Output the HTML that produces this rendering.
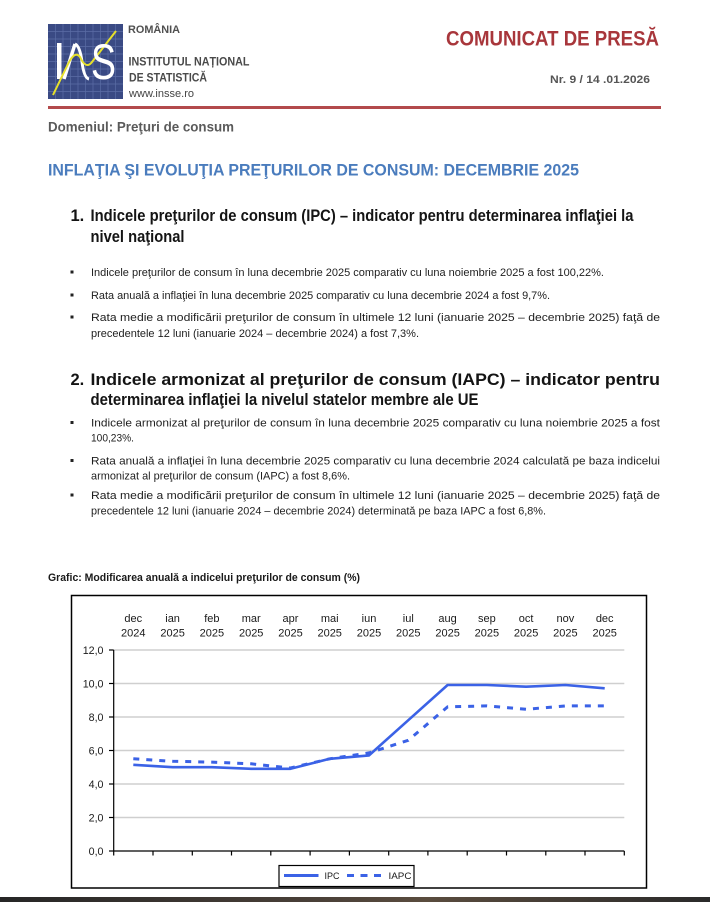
<!DOCTYPE html>
<html>
<head>
<meta charset="utf-8">
<style>
html,body{margin:0;padding:0;background:#fff;}
body{width:710px;height:902px;overflow:hidden;}
svg{display:block;}
</style>
</head>
<body>
<svg width="710" height="902" viewBox="0 0 710 902" xmlns="http://www.w3.org/2000/svg" font-family="Liberation Sans, Arial, sans-serif">
<defs>
<linearGradient id="band" x1="0" x2="1" y1="0" y2="0">
<stop offset="0" stop-color="#262626"/>
<stop offset="0.45" stop-color="#4a4038"/>
<stop offset="0.6" stop-color="#5a4c3e"/>
<stop offset="1" stop-color="#2a2a2a"/>
</linearGradient>
</defs>
<rect x="0" y="0" width="710" height="902" fill="#ffffff"/>

<!-- Logo -->
<rect x="48" y="24" width="75" height="75" fill="#3a4a84"/>
<g stroke="#6476ae" stroke-width="0.7" opacity="0.8">
<line x1="55.5" y1="24" x2="55.5" y2="99"/><line x1="63" y1="24" x2="63" y2="99"/><line x1="70.5" y1="24" x2="70.5" y2="99"/><line x1="78" y1="24" x2="78" y2="99"/><line x1="85.5" y1="24" x2="85.5" y2="99"/><line x1="93" y1="24" x2="93" y2="99"/><line x1="100.5" y1="24" x2="100.5" y2="99"/><line x1="108" y1="24" x2="108" y2="99"/><line x1="115.5" y1="24" x2="115.5" y2="99"/>
<line x1="48" y1="31.5" x2="123" y2="31.5"/><line x1="48" y1="39" x2="123" y2="39"/><line x1="48" y1="46.5" x2="123" y2="46.5"/><line x1="48" y1="54" x2="123" y2="54"/><line x1="48" y1="61.5" x2="123" y2="61.5"/><line x1="48" y1="69" x2="123" y2="69"/><line x1="48" y1="76.5" x2="123" y2="76.5"/><line x1="48" y1="84" x2="123" y2="84"/><line x1="48" y1="91.5" x2="123" y2="91.5"/>
</g>
<rect x="57" y="43" width="4.5" height="36" fill="#ffffff"/>
<path d="M64 79 L75 44" stroke="#ffffff" stroke-width="3.5" fill="none"/>
<path d="M75 44 Q80 46 82 62 Q84 78 89 79" stroke="#ffffff" stroke-width="3" fill="none"/>
<path d="M53 95 L68 64 Q75 50 80 57 Q86 70 92 62 L116 31" stroke="#e6e02a" stroke-width="2" fill="none"/>
<text x="91" y="79" font-size="50" fill="#ffffff" textLength="25" lengthAdjust="spacingAndGlyphs">S</text>

<!-- Header texts -->
<text x="128" y="33" font-size="11" font-weight="bold" fill="#505050" textLength="52" lengthAdjust="spacingAndGlyphs">ROMÂNIA</text>
<text x="128.5" y="65.5" font-size="12" font-weight="bold" fill="#4a4a4a" textLength="121" lengthAdjust="spacingAndGlyphs">INSTITUTUL NAȚIONAL</text>
<text x="129" y="81.5" font-size="12" font-weight="bold" fill="#4a4a4a" textLength="78" lengthAdjust="spacingAndGlyphs">DE STATISTICĂ</text>
<text x="129" y="97" font-size="11" fill="#444444" textLength="65" lengthAdjust="spacingAndGlyphs">www.insse.ro</text>

<text x="446" y="45.5" font-size="21.5" font-weight="bold" fill="#a8363b" textLength="213" lengthAdjust="spacingAndGlyphs">COMUNICAT DE PRESĂ</text>
<text x="550" y="83" font-size="11" font-weight="bold" fill="#555555" textLength="100" lengthAdjust="spacingAndGlyphs">Nr. 9 / 14 .01.2026</text>

<rect x="48" y="106" width="613" height="3" fill="#b34a4c"/>

<text x="48" y="131.5" font-size="14" font-weight="bold" fill="#5a5a5a" textLength="186" lengthAdjust="spacingAndGlyphs">Domeniul: Preţuri de consum</text>
<text x="48" y="175.5" font-size="16.5" font-weight="bold" fill="#4a7cbd" textLength="531" lengthAdjust="spacingAndGlyphs">INFLAŢIA ŞI EVOLUŢIA PREŢURILOR DE CONSUM: DECEMBRIE 2025</text>

<!-- Section 1 -->
<g font-weight="bold" font-size="16.5" fill="#141414">
<text x="70.5" y="221">1.</text>
<text x="90.5" y="221" textLength="543" lengthAdjust="spacingAndGlyphs">Indicele preţurilor de consum (IPC) – indicator pentru determinarea inflaţiei la</text>
<text x="90.5" y="242" textLength="94" lengthAdjust="spacingAndGlyphs">nivel naţional</text>
</g>
<g font-size="10.8" fill="#1e1e1e">
<rect x="70.5" y="270.5" width="3" height="3" fill="#222"/>
<text x="91" y="276" textLength="513" lengthAdjust="spacingAndGlyphs">Indicele preţurilor de consum în luna decembrie 2025 comparativ cu luna noiembrie 2025 a fost 100,22%.</text>
<rect x="70.5" y="293.5" width="3" height="3" fill="#222"/>
<text x="91" y="299" textLength="459" lengthAdjust="spacingAndGlyphs">Rata anuală a inflaţiei în luna decembrie 2025 comparativ cu luna decembrie 2024 a fost 9,7%.</text>
<rect x="70.5" y="315.5" width="3" height="3" fill="#222"/>
<text x="91" y="321" textLength="569" lengthAdjust="spacingAndGlyphs">Rata medie a modificării preţurilor de consum în ultimele 12 luni (ianuarie 2025 – decembrie 2025) faţă de</text>
<text x="91" y="337" textLength="328" lengthAdjust="spacingAndGlyphs">precedentele 12 luni (ianuarie 2024 – decembrie 2024) a fost 7,3%.</text>
</g>

<!-- Section 2 -->
<g font-weight="bold" font-size="16.5" fill="#141414">
<text x="70.5" y="385">2.</text>
<text x="90.5" y="385" textLength="569.5" lengthAdjust="spacingAndGlyphs">Indicele armonizat al preţurilor de consum (IAPC) – indicator pentru</text>
<text x="90.5" y="405" textLength="388" lengthAdjust="spacingAndGlyphs">determinarea inflaţiei la nivelul statelor membre ale UE</text>
</g>
<g font-size="10.8" fill="#1e1e1e">
<rect x="70.5" y="421" width="3" height="3" fill="#222"/>
<text x="91" y="426.5" textLength="569" lengthAdjust="spacingAndGlyphs">Indicele armonizat al preţurilor de consum în luna decembrie 2025 comparativ cu luna noiembrie 2025 a fost</text>
<text x="91" y="441.5" textLength="43" lengthAdjust="spacingAndGlyphs">100,23%.</text>
<rect x="70.5" y="459" width="3" height="3" fill="#222"/>
<text x="91" y="464.5" textLength="569" lengthAdjust="spacingAndGlyphs">Rata anuală a inflaţiei în luna decembrie 2025 comparativ cu luna decembrie 2024 calculată pe baza indicelui</text>
<text x="91" y="479.5" textLength="259" lengthAdjust="spacingAndGlyphs">armonizat al preţurilor de consum (IAPC) a fost 8,6%.</text>
<rect x="70.5" y="493.5" width="3" height="3" fill="#222"/>
<text x="91" y="499" textLength="569" lengthAdjust="spacingAndGlyphs">Rata medie a modificării preţurilor de consum în ultimele 12 luni (ianuarie 2025 – decembrie 2025) faţă de</text>
<text x="91" y="514.5" textLength="455" lengthAdjust="spacingAndGlyphs">precedentele 12 luni (ianuarie 2024 – decembrie 2024) determinată pe baza IAPC a fost 6,8%.</text>
</g>

<!-- Chart title -->
<text x="48" y="581" font-size="10.6" font-weight="bold" fill="#1a1a1a" textLength="312" lengthAdjust="spacingAndGlyphs">Grafic: Modificarea anuală a indicelui preţurilor de consum (%)</text>

<!-- Chart frame -->
<rect x="71.5" y="595.5" width="575" height="292.5" fill="#ffffff" stroke="#000000" stroke-width="1.5"/>

<!-- Gridlines -->
<g stroke="#cfcfcf" stroke-width="1.5">
<line x1="113.7" y1="650" x2="624.3" y2="650"/>
<line x1="113.7" y1="683.5" x2="624.3" y2="683.5"/>
<line x1="113.7" y1="717" x2="624.3" y2="717"/>
<line x1="113.7" y1="750.5" x2="624.3" y2="750.5"/>
<line x1="113.7" y1="784" x2="624.3" y2="784"/>
<line x1="113.7" y1="817.5" x2="624.3" y2="817.5"/>
</g>

<!-- Axes -->
<g stroke="#000000" stroke-width="1.2">
<line x1="113.7" y1="650" x2="113.7" y2="851"/>
<line x1="113.7" y1="851" x2="624.3" y2="851"/>
<line x1="109" y1="650" x2="113.7" y2="650"/>
<line x1="109" y1="683.5" x2="113.7" y2="683.5"/>
<line x1="109" y1="717" x2="113.7" y2="717"/>
<line x1="109" y1="750.5" x2="113.7" y2="750.5"/>
<line x1="109" y1="784" x2="113.7" y2="784"/>
<line x1="109" y1="817.5" x2="113.7" y2="817.5"/>
<line x1="109" y1="851" x2="113.7" y2="851"/>
<line x1="113.7" y1="851" x2="113.7" y2="855.5"/>
<line x1="153" y1="851" x2="153" y2="855.5"/>
<line x1="192.3" y1="851" x2="192.3" y2="855.5"/>
<line x1="231.5" y1="851" x2="231.5" y2="855.5"/>
<line x1="270.8" y1="851" x2="270.8" y2="855.5"/>
<line x1="310.1" y1="851" x2="310.1" y2="855.5"/>
<line x1="349.4" y1="851" x2="349.4" y2="855.5"/>
<line x1="388.7" y1="851" x2="388.7" y2="855.5"/>
<line x1="427.9" y1="851" x2="427.9" y2="855.5"/>
<line x1="467.2" y1="851" x2="467.2" y2="855.5"/>
<line x1="506.5" y1="851" x2="506.5" y2="855.5"/>
<line x1="545.8" y1="851" x2="545.8" y2="855.5"/>
<line x1="585" y1="851" x2="585" y2="855.5"/>
<line x1="624.3" y1="851" x2="624.3" y2="855.5"/>
</g>

<!-- Y labels -->
<g font-size="10.7" fill="#1a1a1a" text-anchor="end">
<text x="103.5" y="653.8">12,0</text>
<text x="103.5" y="687.3">10,0</text>
<text x="103.5" y="720.8">8,0</text>
<text x="103.5" y="754.3">6,0</text>
<text x="103.5" y="787.8">4,0</text>
<text x="103.5" y="821.3">2,0</text>
<text x="103.5" y="854.8">0,0</text>
</g>

<!-- Category labels -->
<g font-size="11" fill="#1a1a1a" text-anchor="middle">
<text x="133.3" y="622">dec</text><text x="133.3" y="636.5">2024</text>
<text x="172.6" y="622">ian</text><text x="172.6" y="636.5">2025</text>
<text x="211.9" y="622">feb</text><text x="211.9" y="636.5">2025</text>
<text x="251.2" y="622">mar</text><text x="251.2" y="636.5">2025</text>
<text x="290.5" y="622">apr</text><text x="290.5" y="636.5">2025</text>
<text x="329.7" y="622">mai</text><text x="329.7" y="636.5">2025</text>
<text x="369" y="622">iun</text><text x="369" y="636.5">2025</text>
<text x="408.3" y="622">iul</text><text x="408.3" y="636.5">2025</text>
<text x="447.6" y="622">aug</text><text x="447.6" y="636.5">2025</text>
<text x="486.9" y="622">sep</text><text x="486.9" y="636.5">2025</text>
<text x="526.1" y="622">oct</text><text x="526.1" y="636.5">2025</text>
<text x="565.4" y="622">nov</text><text x="565.4" y="636.5">2025</text>
<text x="604.7" y="622">dec</text><text x="604.7" y="636.5">2025</text>
</g>

<!-- IAPC dashed -->
<polyline fill="none" stroke="#3b62e6" stroke-width="3" stroke-dasharray="6,7"
points="133.3,758.8 172.6,761.3 211.9,762.1 251.2,763.8 290.5,768 329.7,758.8 369,752.9 408.3,740.3 447.6,706.8 486.9,705.9 526.1,709.3 565.4,705.9 604.7,705.9"/>
<!-- IPC solid -->
<polyline fill="none" stroke="#3b62e6" stroke-width="2.6" stroke-linejoin="round"
points="133.3,764.8 172.6,767.2 211.9,767.2 251.2,768.8 290.5,768.8 329.7,758.8 369,755.4 408.3,720.2 447.6,685 486.9,685 526.1,686.7 565.4,685 604.7,688.3"/>

<!-- Legend -->
<rect x="279" y="865.5" width="135" height="21" fill="#ffffff" stroke="#000000" stroke-width="1.2"/>
<line x1="284" y1="875.5" x2="318.5" y2="875.5" stroke="#3b62e6" stroke-width="3"/>
<text x="324.5" y="879" font-size="9" fill="#1a1a1a">IPC</text>
<line x1="347" y1="875.5" x2="384" y2="875.5" stroke="#3b62e6" stroke-width="3" stroke-dasharray="7,6.5"/>
<text x="388.5" y="879" font-size="9.5" fill="#1a1a1a" textLength="23" lengthAdjust="spacingAndGlyphs">IAPC</text>

<!-- Bottom dark band -->
<rect x="0" y="897" width="710" height="5" fill="url(#band)"/>
</svg>
</body>
</html>
